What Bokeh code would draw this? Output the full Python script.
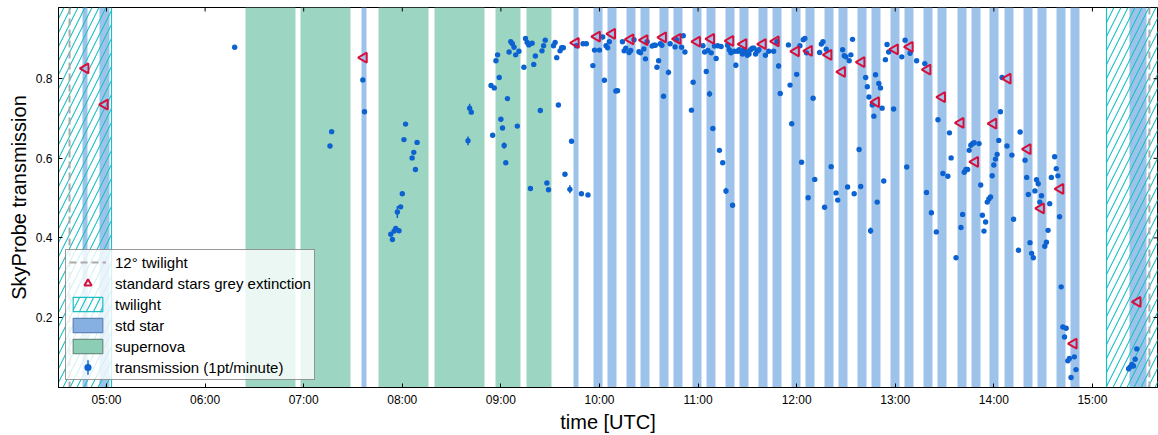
import math
from bokeh.plotting import figure
from bokeh.models import FixedTicker, Legend, LegendItem, Range1d, Span
from bokeh.embed import file_html
from bokeh.resources import INLINE

# ---------------- data ----------------
# night limits (decimal hours UTC)
twilight_start = [4.40, 15.142]
twilight_end = [5.051, 15.80]
twilight12_time = [4.625, 15.578]

std_star_start = [4.757, 4.929, 7.586, 9.736, 9.939, 10.081, 10.274, 10.416, 10.609, 10.751,
                  10.943, 11.085, 11.278, 11.420, 11.613, 11.755, 11.947, 12.089, 12.282, 12.424,
                  12.617, 12.759, 12.951, 13.093, 13.286, 13.428, 13.631, 13.773, 13.955, 14.108,
                  14.300, 14.442, 14.635, 14.777, 15.375]
std_star_end = [4.807, 5.030, 7.637, 9.787, 10.030, 10.172, 10.365, 10.507, 10.700, 10.842,
                11.034, 11.177, 11.369, 11.511, 11.704, 11.846, 12.039, 12.181, 12.373, 12.515,
                12.708, 12.850, 13.043, 13.185, 13.377, 13.519, 13.722, 13.864, 14.047, 14.199,
                14.391, 14.533, 14.726, 14.868, 15.548]

supernova_start = [6.410, 6.968, 7.759, 8.327, 8.945, 9.260]
supernova_end = [6.917, 7.475, 8.266, 8.834, 9.199, 9.513]

# standard stars grey extinction
std_time = [4.787, 4.983, 7.610, 9.760, 9.975, 10.128, 10.315, 10.457, 10.645, 10.793,
            10.990, 11.133, 11.328, 11.460, 11.657, 11.788, 11.993, 12.125, 12.323, 12.460,
            12.658, 12.805, 12.997, 13.147, 13.327, 13.475, 13.663, 13.810, 13.995, 14.140,
            14.343, 14.478, 14.675, 14.810, 15.458]
std_ext = [0.826, 0.735, 0.853, 0.890, 0.906, 0.913, 0.899, 0.897, 0.904, 0.900,
           0.893, 0.900, 0.895, 0.887, 0.887, 0.894, 0.869, 0.870, 0.860, 0.817,
           0.842, 0.741, 0.874, 0.880, 0.823, 0.754, 0.689, 0.591, 0.687, 0.800,
           0.623, 0.474, 0.523, 0.134, 0.239]

# SkyProbe transmission, 1 point per minute
obs_time = [
    "06:18", "07:16", "07:17", "07:36", "07:37", "07:53", "07:54", "07:55", "07:56", "07:57",
    "07:58", "07:59", "08:00", "08:01", "08:02", "08:06", "08:07", "08:08", "08:09", "08:40",
    "08:41", "08:42", "08:54", "08:55", "08:56", "08:57", "08:58", "08:59", "09:00", "09:01",
    "09:02", "09:03", "09:04", "09:05", "09:06", "09:07", "09:08", "09:09", "09:10", "09:11",
    "09:14", "09:15", "09:16", "09:17", "09:18", "09:19", "09:20", "09:21", "09:24", "09:25",
    "09:26", "09:27", "09:28", "09:29", "09:32", "09:33", "09:34", "09:35", "09:36", "09:37",
    "09:38", "09:39", "09:42", "09:43", "09:46", "09:49", "09:50", "09:52", "09:53", "09:56",
    "09:57", "10:00", "10:02", "10:03", "10:04", "10:05", "10:06", "10:10", "10:11", "10:14",
    "10:15", "10:16", "10:18", "10:19", "10:21", "10:24", "10:25", "10:27", "10:28", "10:29",
    "10:32", "10:33", "10:34", "10:35", "10:36", "10:37", "10:38", "10:39", "10:42", "10:43",
    "10:46", "10:47", "10:50", "10:51", "10:52", "10:56", "10:57", "11:03", "11:04", "11:05",
    "11:06", "11:07", "11:08", "11:09", "11:10", "11:11", "11:12", "11:13", "11:14", "11:15",
    "11:17", "11:18", "11:19", "11:20", "11:21", "11:22", "11:23", "11:24", "11:25", "11:26",
    "11:27", "11:28", "11:29", "11:30", "11:31", "11:32", "11:33", "11:34", "11:35", "11:36",
    "11:37", "11:41", "11:43", "11:46", "11:48", "11:49", "11:50", "11:55", "11:56", "11:57",
    "12:00", "12:02", "12:03", "12:04", "12:05", "12:06", "12:07", "12:10", "12:11", "12:14",
    "12:15", "12:16", "12:17", "12:18", "12:21", "12:24", "12:25", "12:28", "12:29", "12:30",
    "12:31", "12:32", "12:33", "12:34", "12:35", "12:38", "12:39", "12:42", "12:43", "12:44",
    "12:45", "12:46", "12:47", "12:48", "12:49", "12:50", "12:51", "12:52", "12:53", "12:54",
    "12:55", "12:56", "12:59", "13:04", "13:06", "13:07", "13:09", "13:13", "13:18", "13:19",
    "13:22", "13:25", "13:26", "13:29", "13:32", "13:33", "13:34", "13:37", "13:40", "13:41",
    "13:42", "13:43", "13:44", "13:45", "13:46", "13:47", "13:48", "13:51", "13:52", "13:53",
    "13:54", "13:55", "13:56", "13:57", "13:58", "13:59", "14:00", "14:01", "14:02", "14:03",
    "14:04", "14:05", "14:08", "14:11", "14:12", "14:15", "14:16", "14:19", "14:20", "14:21",
    "14:22", "14:23", "14:24", "14:25", "14:26", "14:27", "14:28", "14:29", "14:31", "14:32",
    "14:33", "14:34", "14:35", "14:37", "14:38", "14:39", "14:40", "14:41", "14:42", "14:43",
    "14:44", "14:45", "14:46", "14:47", "14:49", "14:50", "15:22", "15:23", "15:24", "15:25",
    "15:26", "15:27"]
obs_trans = [
    0.879, 0.631, 0.667, 0.797, 0.717, 0.409, 0.396, 0.417, 0.424, 0.465,
    0.418, 0.478, 0.511, 0.647, 0.686, 0.601, 0.615, 0.572, 0.640, 0.644,
    0.726, 0.716, 0.783, 0.658, 0.777, 0.845, 0.860, 0.803, 0.698, 0.676,
    0.632, 0.589, 0.750, 0.867, 0.893, 0.888, 0.879, 0.860, 0.681, 0.869,
    0.829, 0.901, 0.891, 0.885, 0.524, 0.889, 0.836, 0.857, 0.720, 0.870,
    0.883, 0.897, 0.538, 0.521, 0.883, 0.891, 0.853, 0.734, 0.870, 0.878,
    0.878, 0.560, 0.522, 0.643, 0.883, 0.511, 0.888, 0.888, 0.508, 0.833,
    0.872, 0.872, 0.905, 0.796, 0.883, 0.878, 0.893, 0.769, 0.770, 0.893,
    0.870, 0.877, 0.866, 0.871, 0.898, 0.868, 0.865, 0.875, 0.850, 0.893,
    0.882, 0.884, 0.884, 0.829, 0.845, 0.888, 0.884, 0.756, 0.816, 0.888,
    0.880, 0.898, 0.879, 0.908, 0.867, 0.721, 0.791, 0.883, 0.867, 0.818,
    0.871, 0.762, 0.865, 0.675, 0.882, 0.851, 0.883, 0.620, 0.881, 0.589,
    0.518, 0.884, 0.873, 0.865, 0.482, 0.869, 0.834, 0.869, 0.873, 0.869,
    0.862, 0.873, 0.869, 0.859, 0.862, 0.873, 0.877, 0.877, 0.862, 0.869,
    0.873, 0.859, 0.869, 0.869, 0.893, 0.832, 0.763, 0.885, 0.784, 0.687,
    0.811, 0.883, 0.590, 0.898, 0.901, 0.865, 0.501, 0.751, 0.547, 0.866,
    0.887, 0.893, 0.477, 0.874, 0.579, 0.513, 0.495, 0.873, 0.858, 0.855,
    0.528, 0.845, 0.860, 0.899, 0.511, 0.622, 0.529, 0.803, 0.780, 0.754,
    0.418, 0.734, 0.706, 0.810, 0.490, 0.788, 0.777, 0.726, 0.543, 0.848,
    0.886, 0.867, 0.724, 0.855, 0.897, 0.578, 0.864, 0.845, 0.838, 0.514,
    0.463, 0.415, 0.697, 0.562, 0.555, 0.664, 0.601, 0.350, 0.426, 0.459,
    0.565, 0.572, 0.572, 0.620, 0.633, 0.637, 0.639, 0.637, 0.533, 0.457,
    0.417, 0.440, 0.490, 0.498, 0.503, 0.556, 0.583, 0.598, 0.610, 0.645,
    0.717, 0.803, 0.631, 0.608, 0.447, 0.369, 0.666, 0.595, 0.552, 0.509,
    0.388, 0.361, 0.350, 0.518, 0.546, 0.536, 0.490, 0.506, 0.379, 0.389,
    0.419, 0.486, 0.552, 0.604, 0.574, 0.556, 0.453, 0.277, 0.176, 0.151,
    0.173, 0.091, 0.097, 0.049, 0.101, 0.069, 0.071, 0.076, 0.082, 0.078,
    0.095, 0.121]

# visible error bars (half length)
err_time = ["07:57", "08:40", "08:41", "09:02", "09:42", "09:56", "10:42", "11:07",
            "11:11", "11:17", "11:23", "11:49", "12:00", "12:45"]
err_size = [0.015, 0.011, 0.011, 0.008, 0.010, 0.005, 0.007, 0.008,
            0.006, 0.008, 0.007, 0.006, 0.006, 0.008]

tick_labels = ["05:00", "06:00", "07:00", "08:00", "09:00", "10:00",
               "11:00", "12:00", "13:00", "14:00", "15:00"]
y_ticks = [0.2, 0.4, 0.6, 0.8]


def hrs(s):
    h, m = s.split(":")
    return int(h) + int(m) / 60.0


obs_x = [hrs(s) for s in obs_time]
trans_at = dict(zip(obs_time, obs_trans))
err_x = [hrs(s) for s in err_time]
err_lo = [trans_at[t] - e for t, e in zip(err_time, err_size)]
err_hi = [trans_at[t] + e for t, e in zip(err_time, err_size)]
x_ticks = [hrs(s) for s in tick_labels]

# ---------------- styles ----------------
FONT = "Liberation Sans"
C_STD = "#9ec3ea"
C_SN = "#9dd5c3"
C_TW = "#1cc0c4"
C_PT = "#0b62d0"
C_TRI = "#d6103c"
C_DASH = "#aaaaaa"

xr = Range1d(4.513, 15.66)
yr = Range1d(0.024, 0.979)
p = figure(width=1158, height=435, output_backend="svg", toolbar_location=None,
           x_range=xr, y_range=yr)
p.min_border_left = 58
p.min_border_right = 1
p.min_border_top = 7
p.min_border_bottom = 43
p.xgrid.visible = False
p.ygrid.visible = False
p.outline_line_color = "black"
p.outline_line_width = 1
p.background_fill_color = "white"
p.border_fill_color = "white"

# bands
r_std = p.vstrip(x0=std_star_start, x1=std_star_end, fill_color=C_STD, fill_alpha=1.0,
                 line_color=None)
r_sn = p.vstrip(x0=supernova_start, x1=supernova_end, fill_color=C_SN, fill_alpha=1.0,
                line_color=None)
r_tw = p.vstrip(x0=twilight_start, x1=twilight_end, fill_color=None,
                hatch_pattern="/", hatch_color=C_TW, hatch_scale=14, hatch_weight=1.1,
                line_color=C_TW, line_width=1.2)
for t in twilight12_time:
    p.add_layout(Span(location=t, dimension="height", line_color=C_DASH, line_width=2,
                      line_dash="7 4", level="glyph"))

# error bars and points
r_err = p.segment(x0=err_x, y0=err_lo, x1=err_x, y1=err_hi, line_color=C_PT, line_width=1.5)
r_pts = p.scatter(obs_x, obs_trans, marker="circle", size=5.4, fill_color=C_PT,
                  line_color=None)
r_tri = p.scatter(std_time, std_ext, marker="triangle", angle=math.pi / 2, size=10,
                  fill_color=None, line_color=C_TRI, line_width=2)

# inward ticks on the top and right frame edges
p.scatter(x=x_ticks, y=[yr.end] * len(x_ticks), marker="dash", angle=math.pi / 2, size=8,
          line_color="black", line_width=1)
p.scatter(x=[xr.end] * len(y_ticks), y=y_ticks, marker="dash", size=8,
          line_color="black", line_width=1)

# legend proxies: placed at the start of the evening twilight, left of the visible range
off = twilight_start[0]
px_tw12 = p.line(x=[off, off], y=y_ticks[:2], line_color=C_DASH, line_width=2,
                 line_dash="7 4")
px_std = p.vstrip(x0=[off], x1=[off], fill_color="#86b0e2", line_color="#5f84b8",
                  line_width=1.2)
px_sn = p.vstrip(x0=[off], x1=[off], fill_color="#8ccdb5", line_color="#6d8f82",
                 line_width=1.2)
px_err = p.ellipse(x=[off], y=y_ticks[:1], width=0.05, height=14, width_units="screen",
                   height_units="screen", fill_color=None, line_color=C_PT, line_width=1.5)

legend = Legend(items=[
    LegendItem(label="12° twilight", renderers=[px_tw12]),
    LegendItem(label="standard stars grey extinction", renderers=[r_tri]),
    LegendItem(label="twilight", renderers=[r_tw]),
    LegendItem(label="std star", renderers=[px_std]),
    LegendItem(label="supernova", renderers=[px_sn]),
    LegendItem(label="transmission (1pt/minute)", renderers=[px_err, r_pts]),
], location="bottom_left")
legend.margin = 7
legend.padding = 3
legend.spacing = 3
legend.glyph_width = 37
legend.glyph_height = 18
legend.label_height = 18
legend.label_standoff = 9
legend.label_text_font = FONT
legend.label_text_font_size = "15px"
legend.label_text_color = "black"
legend.border_line_color = "#333333"
legend.border_line_width = 1
legend.background_fill_color = "white"
legend.background_fill_alpha = 0.8
p.add_layout(legend)

# axes
xt = FixedTicker(ticks=x_ticks, minor_ticks=[])
yt = FixedTicker(ticks=y_ticks, minor_ticks=[])


def style_axis(ax):
    ax.axis_line_color = "black"
    ax.axis_line_width = 1
    ax.major_tick_in = 4
    ax.major_tick_out = 0
    ax.minor_tick_in = 0
    ax.minor_tick_out = 0
    ax.major_tick_line_color = "black"
    ax.major_label_text_font = FONT
    ax.major_label_text_color = "black"
    ax.major_label_text_font_size = "12px"
    ax.axis_label_text_font = FONT
    ax.axis_label_text_font_size = "20px"
    ax.axis_label_text_font_style = "normal"
    ax.axis_label_text_color = "black"


xa = p.xaxis[0]
xa.ticker = xt
xa.major_label_overrides = {x: lab for x, lab in zip(x_ticks, tick_labels)}
style_axis(xa)
xa.major_label_standoff = 5
xa.axis_label = "time [UTC]"
xa.axis_label_standoff = 1

ya = p.yaxis[0]
ya.ticker = yt
style_axis(ya)
ya.major_label_standoff = 6
ya.axis_label = "SkyProbe transmission"
ya.axis_label_standoff = 3

open("out.html", "w").write(file_html(p, INLINE))
